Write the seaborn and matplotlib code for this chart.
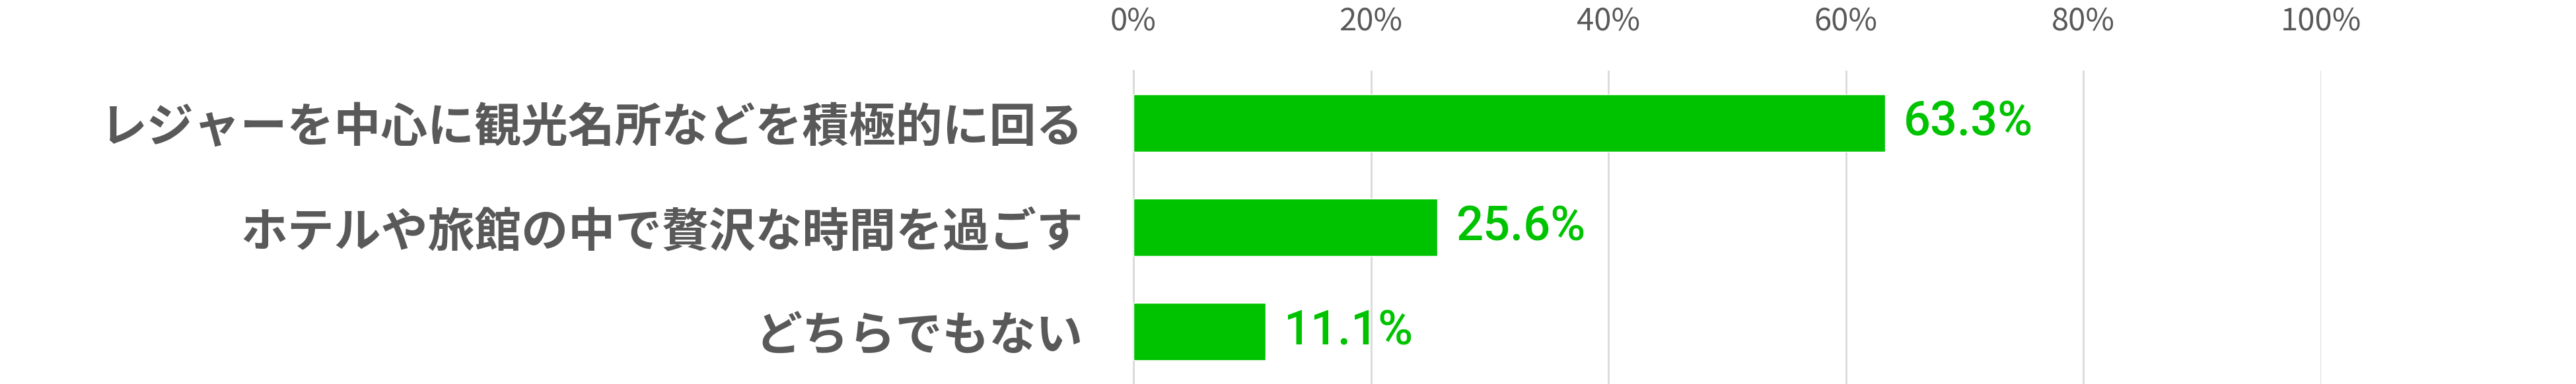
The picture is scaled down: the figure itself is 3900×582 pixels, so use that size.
import seaborn as sns
import matplotlib.pyplot as plt
import pandas as pd

# data
categories = ["レジャーを中心に観光名所などを積極的に回る",
              "ホテルや旅館の中で贅沢な時間を過ごす",
              "どちらでもない"]
values = [63.3, 25.6, 11.1]
xticks = [0, 20, 40, 60, 80, 100]

df = pd.DataFrame({"item": categories, "pct": values})

sns.set_style("white")
plt.rcParams['font.family'] = ['Noto Sans CJK JP', 'DejaVu Sans']

green = "#00C300"
grey_text = "#595959"
grey_line = "#D9D9D9"

fig = plt.figure(figsize=(39, 5.82), dpi=100)
ax = fig.add_axes([0.44, 0.0, 0.461, 0.816])

sns.barplot(data=df, x="pct", y="item", color=green, width=0.55,
            saturation=1, ax=ax, zorder=3)

ax.set_xlim(0, 100)
ax.set_xticks(xticks)
ax.set_xticklabels([f"{t}%" for t in xticks])
ax.xaxis.tick_top()
ax.tick_params(axis='x', length=0, pad=36, labelsize=34, labelcolor=grey_text)
ax.grid(axis='x', color=grey_line, linewidth=2, zorder=0)
ax.set_xlabel("")
ax.set_ylabel("")

# category labels
ax.tick_params(axis='y', which='major', length=0, pad=55)
for lab in ax.get_yticklabels():
    lab.set_fontsize(51)
    lab.set_fontweight('bold')
    lab.set_color(grey_text)

# small ticks between categories
ax.set_yticks([-0.5, 0.5, 1.5, 2.5], minor=True)
ax.tick_params(axis='y', which='minor', length=16, width=2, color=grey_line)
ax.set_ylim(2.5, -0.5)

for s in ["top", "right", "bottom"]:
    ax.spines[s].set_visible(False)
ax.spines["left"].set_color(grey_line)
ax.spines["left"].set_linewidth(2)

# value labels
for i, v in enumerate(values):
    ax.annotate(f"{v}%", xy=(v, i), xytext=(20, 0), textcoords="offset points",
                va="center", ha="left", fontsize=52, color=green,
                family="Roboto", fontweight="medium", annotation_clip=False)

fig.savefig("out.png", dpi=100)
